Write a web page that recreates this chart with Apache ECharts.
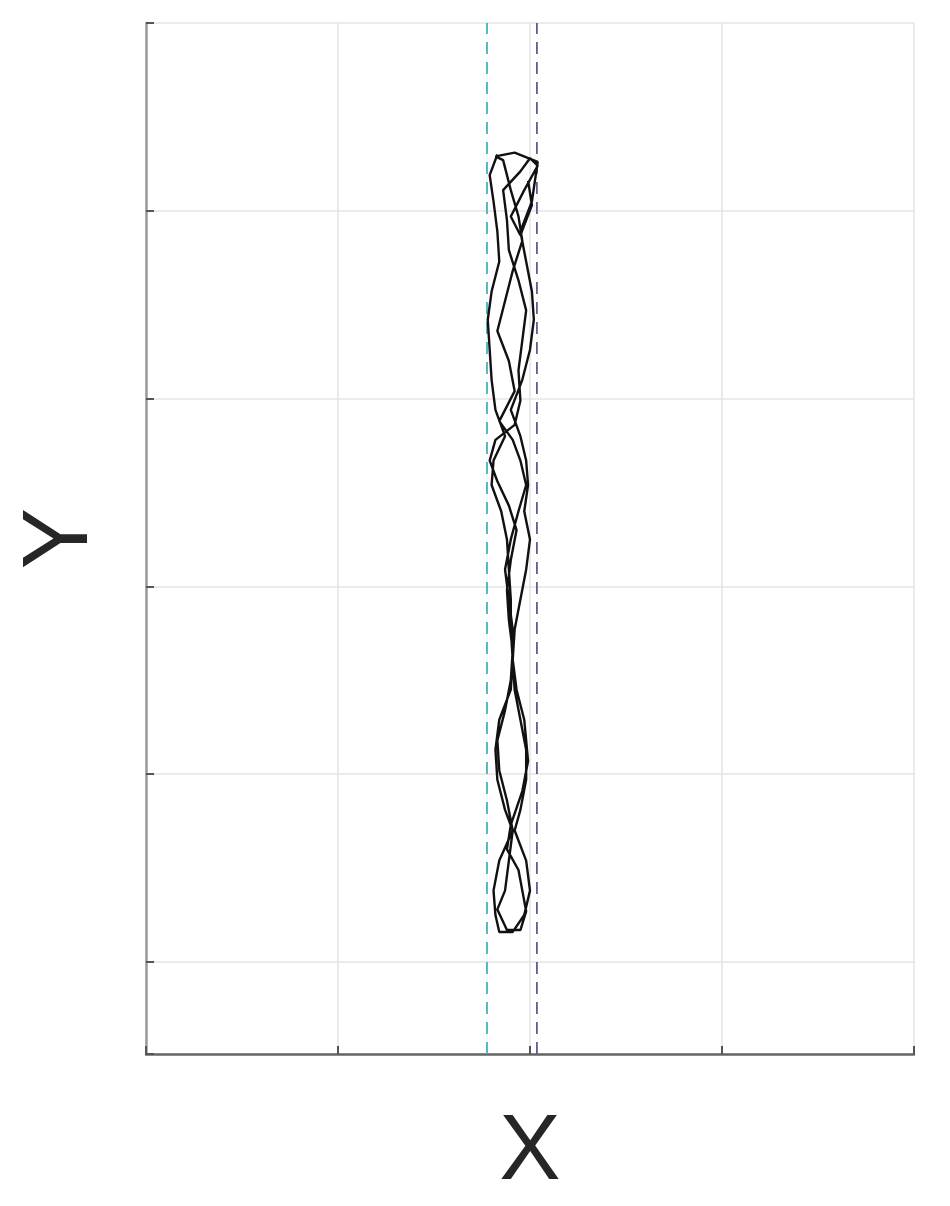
<!DOCTYPE html>
<html>
<head>
<meta charset="utf-8">
<title>trajectory</title>
<script src="https://cdn.jsdelivr.net/npm/echarts@6/dist/echarts.min.js"></script>
<style>
  html, body { margin: 0; padding: 0; background: #fff; }
  #chart { width: 950px; height: 1206px; }
</style>
</head>
<body>
<div id="chart"></div>
<script>
// walked path (x: 0..400, y: -49..500)
const pathX = [
  183, 179, 181, 183, 184, 180, 178, 179, 180, 182, 187, 181, 180, 185, 188, 189, 190, 190, 191, 190, 184, 182, 183, 187, 191, 184, 181, 182, 184,
  191, 197, 200, 198, 192, 195, 198, 198, 195, 192, 191, 192, 195, 198, 200, 197, 199, 198, 195, 190, 196, 200, 202, 201, 198, 195, 201, 204, 192, 182,
  186, 190, 194, 196, 191, 187, 183, 189, 192, 184, 191, 195, 198, 194, 190, 187, 189, 191, 191, 193, 197, 199, 196, 190, 188, 194, 196, 198, 195,
  188, 183, 187, 189, 191, 188, 184, 183, 187, 190, 191, 189, 188, 190, 193, 189, 183, 179, 182, 192, 195, 194, 196, 198, 194, 189, 188, 186, 195, 200, 204, 197, 190, 195, 201, 199
];
const pathY = [
  430, 419, 405, 389, 373, 357, 342, 326, 310, 294, 280, 267, 254, 240, 225, 209, 193, 177, 161, 145, 129, 113, 97, 81, 70, 54, 38, 25, 16,
  16, 25, 38, 54, 70, 81, 97, 113, 129, 145, 161, 177, 193, 209, 225, 240, 254, 267, 280, 294, 310, 326, 342, 357, 373, 389, 405, 426, 431, 429,
  427, 411, 397, 384, 368, 352, 336, 320, 304, 288, 278, 267, 254, 240, 225, 209, 193, 177, 161, 145, 129, 107, 91, 73, 60, 49, 38, 27, 17,
  17, 28, 38, 54, 70, 86, 102, 118, 134, 150, 166, 182, 198, 214, 230, 243, 256, 267, 278, 286, 299, 315, 331, 347, 363, 379, 395, 411, 421, 428, 424, 411, 397, 387, 403, 416
];

// dashed guide positions
const guideCyanX = 177.6;
const guidePurpleX = 203.6;
const yRange = [-49, 500];
const xRange = [0, 400];

const chart = echarts.init(document.getElementById("chart"));

const pathData = pathX.map((x, i) => [x, pathY[i]]);

chart.setOption({
  animation: false,
  grid: { left: 146, top: 23, right: 36, bottom: 152 },
  xAxis: {
    type: "value",
    min: xRange[0],
    max: xRange[1],
    interval: 100,
    name: "X",
    nameLocation: "middle",
    nameGap: 54,
    nameTextStyle: {
      fontFamily: "Liberation Sans",
      fontSize: 92,
      color: "#262626",
      verticalAlign: "top",
    },
    axisLine: { onZero: false, lineStyle: { color: "#666", width: 2.5 } },
    axisTick: { inside: true, length: 8, lineStyle: { color: "#555", width: 2 } },
    axisLabel: { show: false },
    splitLine: { lineStyle: { color: "#e4e4e4", width: 1.5 } },
  },
  yAxis: {
    type: "value",
    min: yRange[0],
    max: yRange[1],
    splitNumber: 5,
    name: "Y",
    nameLocation: "middle",
    nameGap: 38,
    nameRotate: 90,
    nameTextStyle: {
      fontFamily: "Liberation Sans",
      fontSize: 92,
      color: "#262626",
      verticalAlign: "bottom",
    },
    axisLine: { onZero: false, lineStyle: { color: "#999", width: 2.5 } },
    axisTick: { inside: true, length: 8, lineStyle: { color: "#555", width: 2 } },
    axisLabel: { show: false },
    splitLine: { lineStyle: { color: "#e4e4e4", width: 1.5 } },
  },
  series: [
    {
      type: "line",
      data: [[guideCyanX, yRange[0]], [guideCyanX, yRange[1]]],
      symbol: "none",
      lineStyle: { color: "#3fb3bf", width: 1.8, type: [12, 8] },
      z: 2,
    },
    {
      type: "line",
      data: [[guidePurpleX, yRange[0]], [guidePurpleX, yRange[1]]],
      symbol: "none",
      lineStyle: { color: "#655a96", width: 1.8, type: [12, 8] },
      z: 2,
    },
    // the walked trajectory
    {
      type: "line",
      data: pathData,
      symbol: "none",
      smooth: false,
      lineStyle: { color: "#111", width: 2.4 },
      z: 3,
    },
  ],
});
</script>
</body>
</html>
